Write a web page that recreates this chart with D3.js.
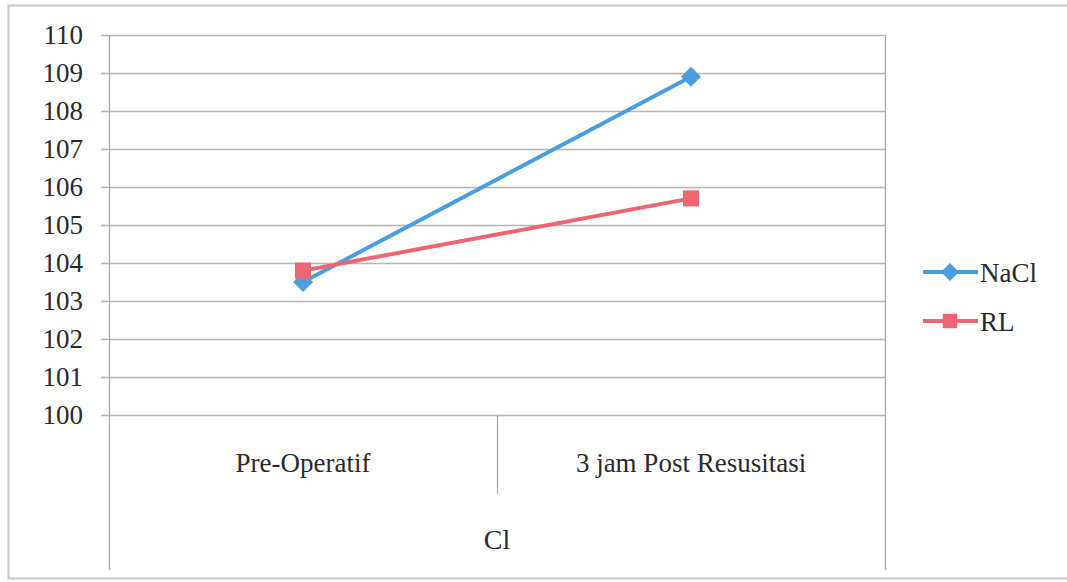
<!DOCTYPE html>
<html><head><meta charset="utf-8">
<script src="https://cdn.jsdelivr.net/npm/d3@7"></script>
<style>body{margin:0;background:#fff}svg{display:block}
text{font-family:"Liberation Serif","DejaVu Serif",serif !important;}</style>
</head><body>
<script>
const categories = ["Pre-Operatif", "3 jam Post Resusitasi"];
const groupLabel = "Cl";
const naclValues = [103.5, 108.9];
const rlValues = [103.8, 105.7];
const seriesNames = ["NaCl", "RL"];
const yTicks = [100,101,102,103,104,105,106,107,108,109,110];

const W = 1067, H = 582;
const pLeft = 109, pRight = 885, pTop = 35, pBottom = 415;
const svg = d3.select("body").append("svg").attr("width", W).attr("height", H);
const fs = 27;
const textColor = "#2a2a2a";

// outer frame
svg.append("rect").attr("x", 8.5).attr("y", 5.5).attr("width", 1070).attr("height", 573)
  .attr("fill", "#fff").attr("stroke", "#c8c8c8").attr("stroke-width", 2);

const y = d3.scaleLinear().domain([100, 110]).range([pBottom, pTop]);
const x = d3.scaleBand().domain(categories).range([pLeft, pRight]);

// gridlines
svg.append("g").selectAll("line").data(yTicks).join("line")
  .attr("x1", pLeft - 8).attr("x2", pRight)
  .attr("y1", d => Math.round(y(d)) + 0.5).attr("y2", d => Math.round(y(d)) + 0.5)
  .attr("stroke", "#b4b4b4").attr("stroke-width", 1.3);

// y axis labels
const yAxis = d3.axisLeft(y).tickValues(yTicks).tickSize(0).tickPadding(26);
const gy = svg.append("g").attr("transform", `translate(${pLeft},0)`).call(yAxis);
gy.select(".domain").remove();
gy.selectAll("text").attr("font-size", fs).attr("fill", textColor);

// vertical axis lines
[pLeft, pRight].forEach(px => {
  svg.append("line").attr("x1", px + 0.5).attr("x2", px + 0.5).attr("y1", pTop).attr("y2", 570)
    .attr("stroke", "#aaa").attr("stroke-width", 1.3);
});
// divider between categories
svg.append("line").attr("x1", x(categories[1]) + 0.5).attr("x2", x(categories[1]) + 0.5)
  .attr("y1", pBottom).attr("y2", 494).attr("stroke", "#aaa").attr("stroke-width", 1.3);

// category labels
const xAxis = d3.axisBottom(x).tickSize(0).tickPadding(38);
const gx = svg.append("g").attr("transform", `translate(0,${pBottom})`).call(xAxis);
gx.select(".domain").remove();
gx.selectAll("text").attr("font-size", fs).attr("fill", textColor);

svg.append("text").attr("x", (pLeft + pRight) / 2).attr("y", 549).attr("text-anchor", "middle")
  .attr("font-size", 28).attr("fill", textColor).text(groupLabel);

const cx = d => x(d) + x.bandwidth() / 2;
const line = d3.line().x((d, i) => cx(categories[i])).y(d => y(d));
const blue = "#4a9ee0", red = "#ee6470";

const series = [
  {name: seriesNames[0], values: naclValues, color: blue, marker: "diamond"},
  {name: seriesNames[1], values: rlValues, color: red, marker: "square"}
];

function marker(g, type, color, px, py, s) {
  if (type === "diamond") {
    g.append("path").attr("d", `M${px},${py - s}L${px + s},${py}L${px},${py + s}L${px - s},${py}Z`).attr("fill", color);
  } else {
    g.append("rect").attr("x", px - s * 0.8).attr("y", py - s * 0.8).attr("width", s * 1.6).attr("height", s * 1.6).attr("fill", color);
  }
}

series.forEach(s => {
  svg.append("path").datum(s.values).attr("d", line).attr("fill", "none")
    .attr("stroke", s.color).attr("stroke-width", 4);
});
series.forEach(s => {
  s.values.forEach((v, i) => marker(svg, s.marker, s.color, cx(categories[i]), y(v), 10));
});

// legend
const legY = [272, 321];
series.forEach((s, i) => {
  const g = svg.append("g");
  g.append("line").attr("x1", 923).attr("x2", 978).attr("y1", legY[i]).attr("y2", legY[i])
    .attr("stroke", s.color).attr("stroke-width", 4);
  marker(g, s.marker, s.color, 950, legY[i], 9);
  g.append("text").attr("x", 980).attr("y", legY[i] + 10)
    .attr("font-size", fs).attr("fill", textColor).text(s.name);
});
</script>
</body></html>
